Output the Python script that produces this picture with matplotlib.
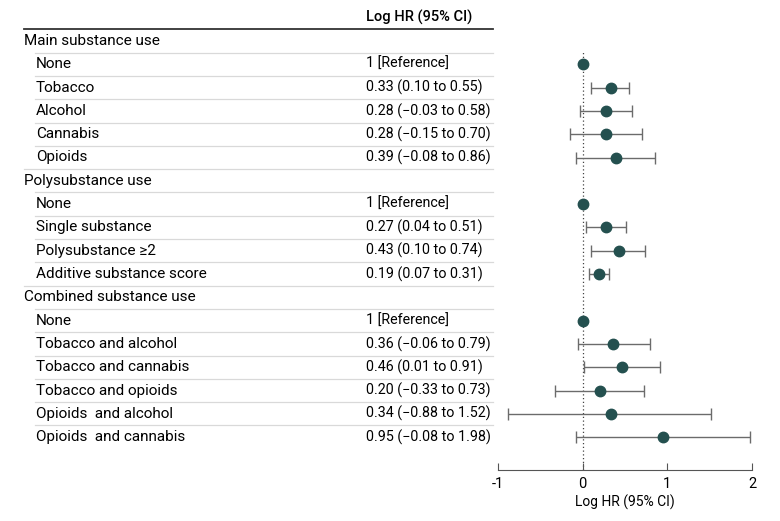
import matplotlib as mpl
mpl.use('Agg')
from matplotlib import pyplot as plt
from matplotlib.transforms import blended_transform_factory

# rows of the table
labels = ['Main substance use', 'None', 'Tobacco', 'Alcohol', 'Cannabis', 'Opioids',
          'Polysubstance use', 'None', 'Single substance', 'Polysubstance \u22652',
          'Additive substance score',
          'Combined substance use', 'None', 'Tobacco and alcohol', 'Tobacco and cannabis',
          'Tobacco and opioids', 'Opioids  and alcohol', 'Opioids  and cannabis']
is_header = [True, False, False, False, False, False,
             True, False, False, False, False,
             True, False, False, False, False, False, False]
ci_text = ['', '1 [Reference]', '0.33 (0.10 to 0.55)', '0.28 (\u22120.03 to 0.58)',
           '0.28 (\u22120.15 to 0.70)', '0.39 (\u22120.08 to 0.86)',
           '', '1 [Reference]', '0.27 (0.04 to 0.51)', '0.43 (0.10 to 0.74)',
           '0.19 (0.07 to 0.31)',
           '', '1 [Reference]', '0.36 (\u22120.06 to 0.79)', '0.46 (0.01 to 0.91)',
           '0.20 (\u22120.33 to 0.73)', '0.34 (\u22120.88 to 1.52)', '0.95 (\u22120.08 to 1.98)']
est = [None, 0, 0.33, 0.28, 0.28, 0.39,
       None, 0, 0.27, 0.43, 0.19,
       None, 0, 0.36, 0.46, 0.20, 0.34, 0.95]
lo = [None, None, 0.10, -0.03, -0.15, -0.08,
      None, None, 0.04, 0.10, 0.07,
      None, None, -0.06, 0.01, -0.33, -0.88, -0.08]
hi = [None, None, 0.55, 0.58, 0.70, 0.86,
      None, None, 0.51, 0.74, 0.31,
      None, None, 0.79, 0.91, 0.73, 1.52, 1.98]
xticks = [-1, 0, 1, 2]
xticklabels = ['-1', '0', '1', '2']

plt.rcParams['font.family'] = ['Roboto', 'DejaVu Sans']
W, H = 780, 521
fig = plt.figure(figsize=(W / 100, H / 100), dpi=100)

# pixel geometry
row0, step = 41, 23.3
ax_top, ax_bot = 50, 470
x_left, x_right = 498, 752
ax = fig.add_axes([x_left / W, 1 - ax_bot / H, (x_right - x_left) / W, (ax_bot - ax_top) / H])
ax.set_xlim(-1, 2)
ax.set_ylim(-(ax_bot - row0) / step, -(ax_top - row0) / step)

teal = '#24504f'
for i in range(len(labels)):
    y = -i
    if est[i] is None:
        continue
    if lo[i] is not None:
        ax.errorbar(est[i], y, xerr=[[est[i] - lo[i]], [hi[i] - est[i]]], fmt='none',
                    ecolor='#6b6b6b', elinewidth=1.0, capsize=4, capthick=1.0, zorder=2)
    ax.plot(est[i], y, 'o', color=teal, ms=7.5, zorder=3)

ax.axvline(0, color='#444444', lw=0.9, ls=(0, (1, 2)), zorder=1)
for s in ['top', 'right', 'left']:
    ax.spines[s].set_visible(False)
ax.spines['bottom'].set_color('#555555')
ax.set_yticks([])
ax.set_xticks(xticks)
ax.set_xticklabels(xticklabels)
ax.tick_params(axis='x', direction='in', length=5, color='#555555', labelsize=10.5, pad=5)
ax.set_xlabel('Log HR (95% CI)', fontsize=10, labelpad=3)

# table text
tr = blended_transform_factory(fig.transFigure, ax.transData)
for i in range(len(labels)):
    y = -i
    xl = 24 if is_header[i] else 36
    ax.text(xl / W, y, labels[i], transform=tr, fontsize=11, va='center', ha='left', clip_on=False)
    if ci_text[i]:
        ax.text(366 / W, y, ci_text[i], transform=tr, fontsize=10.3, va='center', ha='left',
                clip_on=False)
    if i > 0:
        xs = 24 if is_header[i] else 35
        ax.plot([xs / W, 493 / W], [y + 0.5, y + 0.5], transform=tr, color='#d9d9d9',
                lw=0.9, clip_on=False)

ax.text(366 / W, 1.03, 'Log HR (95% CI)', transform=tr, fontsize=10.5, fontweight='medium',
        va='center', ha='left', clip_on=False)
ax.plot([24 / W, 493 / W], [0.53, 0.53], transform=tr, color='#333333', lw=1.3, clip_on=False)

plt.savefig('out.png', dpi=100)
